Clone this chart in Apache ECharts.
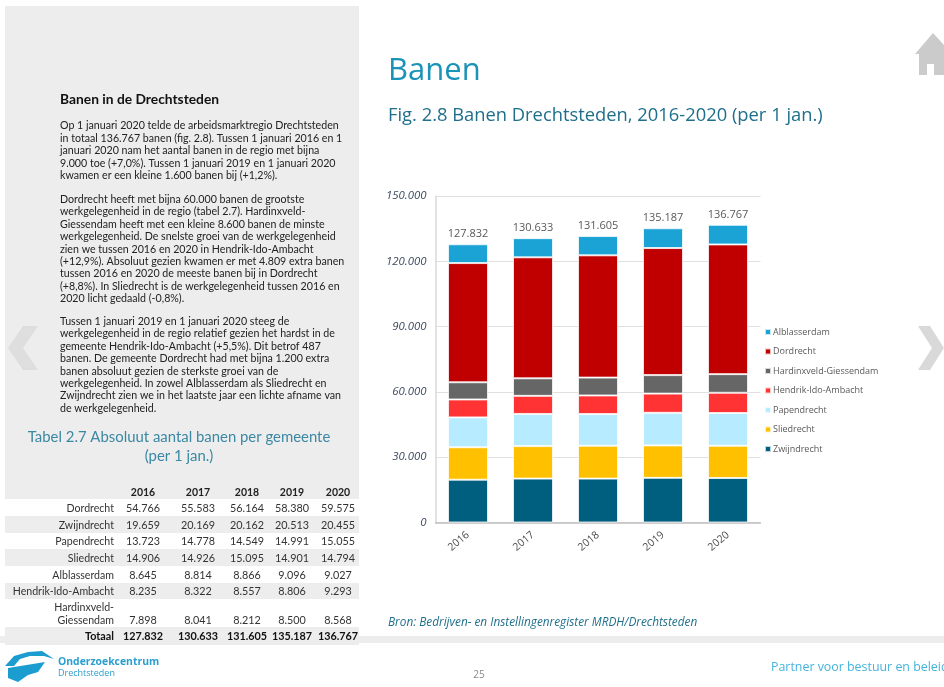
<!DOCTYPE html>
<html><head><meta charset="utf-8">
<style>html,body{margin:0;padding:0;background:#fff}#c{width:944px;height:687px}</style>
<script src="https://cdn.jsdelivr.net/npm/echarts@6/dist/echarts.min.js"></script>
</head><body><div id="c"></div>
<script>
var years = ['2016','2017','2018','2019','2020'];
var zwijndrecht = [19659,20169,20162,20513,20455];
var sliedrecht = [14906,14926,15095,14901,14794];
var papendrecht = [13723,14778,14549,14991,15055];
var hia = [8235,8322,8557,8806,9293];
var hardinxveld = [7898,8041,8212,8500,8568];
var dordrecht = [54766,55583,56164,58380,59575];
var alblasserdam = [8645,8814,8866,9096,9027];
var totals = [127832,130633,131605,135187,136767];
var yTicks = [0,30000,60000,90000,120000,150000];
var stackNames = ['Zwijndrecht','Sliedrecht','Papendrecht','Hendrik-Ido-Ambacht','Hardinxveld-Giessendam','Dordrecht','Alblasserdam'];
var stackValues = [zwijndrecht,sliedrecht,papendrecht,hia,hardinxveld,dordrecht,alblasserdam];
var stackColors = ['#005f7f','#ffc000','#b7ebff','#ff3333','#666666','#c00000','#1ba3d6'];
var legendOrder = ['Alblasserdam','Dordrecht','Hardinxveld-Giessendam','Hendrik-Ido-Ambacht','Papendrecht','Sliedrecht','Zwijndrecht'];
var tableRows = [
  ['Dordrecht',dordrecht],['Zwijndrecht',zwijndrecht],['Papendrecht',papendrecht],['Sliedrecht',sliedrecht],
  ['Alblasserdam',alblasserdam],['Hendrik-Ido-Ambacht',hia],['Giessendam',hardinxveld]
];
var para1 = ['Op 1 januari 2020 telde de arbeidsmarktregio Drechtsteden','in totaal 136.767 banen (fig. 2.8). Tussen 1 januari 2016 en 1','januari 2020 nam het aantal banen in de regio met bijna','9.000 toe (+7,0%). Tussen 1 januari 2019 en 1 januari 2020','kwamen er een kleine 1.600 banen bij (+1,2%).'];
var para2 = ['Dordrecht heeft met bijna 60.000 banen de grootste','werkgelegenheid in de regio (tabel 2.7). Hardinxveld-','Giessendam heeft met een kleine 8.600 banen de minste','werkgelegenheid. De snelste groei van de werkgelegenheid','zien we tussen 2016 en 2020 in Hendrik-Ido-Ambacht','(+12,9%). Absoluut gezien kwamen er met 4.809 extra banen','tussen 2016 en 2020 de meeste banen bij in Dordrecht','(+8,8%). In Sliedrecht is de werkgelegenheid tussen 2016 en','2020 licht gedaald (-0,8%).'];
var para3 = ['Tussen 1 januari 2019 en 1 januari 2020 steeg de','werkgelegenheid in de regio relatief gezien het hardst in de','gemeente Hendrik-Ido-Ambacht (+5,5%). Dit betrof 487','banen. De gemeente Dordrecht had met bijna 1.200 extra','banen absoluut gezien de sterkste groei van de','werkgelegenheid. In zowel Alblasserdam als Sliedrecht en','Zwijndrecht zien we in het laatste jaar een lichte afname van','de werkgelegenheid.'];

function fmt(v){return String(v).replace(/\B(?=(\d{3})+$)/g,'.');}

var g = [];
function rect(x,y,w,h,fill,z){g.push({type:'rect',silent:true,z:z||0,shape:{x:x,y:y,width:w,height:h},style:{fill:fill}});}
function txt(t,x,y,o){o=o||{};g.push({type:'text',silent:true,z:5,x:x,y:y,style:{text:t,fill:o.fill||'#222',font:(o.italic?'italic ':'')+(o.weight||'normal')+' '+(o.size||11)+'px '+(o.family||'Lato'),textAlign:o.align||'left',textVerticalAlign:'middle'}});}
function poly(pts,fill,z){g.push({type:'polygon',silent:true,z:z||1,shape:{points:pts},style:{fill:fill}});}

// panel
rect(5,6,354,493,'#ededed');
[[516,17],[549,17],[583,16],[627,18]].forEach(function(b){rect(5,b[0],354,b[1],'#ededed');});
rect(0,636,944,7,'#ededed');
// chevrons
poly([[38,326],[23,326],[8,348],[23,370],[38,370],[23,348]],'#dedede',1);
poly([[918,326],[930,326],[944,348],[944,348],[930,370],[918,370],[932,348]],'#d9d9d9',1);
// home
poly([[933,33],[944,45],[944,75],[934,75],[934,64],[927,64],[927,75],[919,75],[919,54],[915,54]],'#cbcbcb',1);

txt('Banen in de Drechtsteden',60,100,{size:13.8,weight:'bold',fill:'#111'});
var lh=12.4, bodySize=10.65;
para1.forEach(function(l,i){txt(l,60,126+i*lh,{size:bodySize,fill:'#222'});});
para2.forEach(function(l,i){txt(l,60,199.5+i*lh,{size:bodySize,fill:'#222'});});
para3.forEach(function(l,i){txt(l,60,321.5+i*lh,{size:bodySize,fill:'#222'});});

txt('Tabel 2.7 Absoluut aantal banen per gemeente',179,437,{size:14.9,align:'center',fill:'#3a88a3'});
txt('(per 1 jan.)',179,456.5,{size:14.9,align:'center',fill:'#3a88a3'});

var colX=[143,198,247,292,338];
years.forEach(function(y,i){txt(y,colX[i],492.5,{size:10.5,weight:'bold',align:'center',fill:'#222'});});
var rowY=[509,525.5,542,559,576,592,621];
tableRows.forEach(function(r,i){
  txt(r[0],114,rowY[i],{size:10.6,align:'right',fill:'#333'});
  r[1].forEach(function(v,k){txt(fmt(v),colX[k],rowY[i],{size:10.8,align:'center',fill:'#333'});});
});
txt('Hardinxveld-',114,607.5,{size:10.6,align:'right',fill:'#333'});
txt('Totaal',114,637,{size:10.8,weight:'bold',align:'right',fill:'#111'});
totals.forEach(function(v,k){txt(fmt(v),colX[k],637,{size:10.8,weight:'bold',align:'center',fill:'#111'});});

// figure heading
txt('Banen',388,71.5,{size:31,family:'Open Sans',fill:'#1a93b8'});
txt('Fig. 2.8 Banen Drechtsteden, 2016-2020 (per 1 jan.)',388,115.5,{size:18.35,family:'Open Sans',fill:'#1f6f8b'});
txt('Bron: Bedrijven- en Instellingenregister MRDH/Drechtsteden',388,623,{size:11.8,italic:true,family:'Open Sans',fill:'#1f6f8b'});

// footer
txt('25',479,675,{size:10,align:'center',family:'Open Sans',fill:'#8a8a8a'});
txt('Partner voor bestuur en beleid',771,667,{size:12.4,family:'Open Sans',fill:'#45b4dc'});
txt('Onderzoekcentrum',58,662,{size:10.4,weight:'bold',family:'Open Sans',fill:'#2a9fcf'});
txt('Drechtsteden',58,673,{size:9,family:'Open Sans',fill:'#2a9fcf'});
// logo
poly([[5,666],[14,656],[28,652],[42,651],[54,659],[44,656],[30,656],[20,659],[14,666]],'#1b9dd0',1);
poly([[8,668],[45,662],[38,672],[28,675],[18,682],[8,678]],'#1b9dd0',1);

var series = stackNames.map(function(n,i){
  return {name:n,type:'bar',stack:'t',data:stackValues[i],barWidth:40,
    itemStyle:{color:stackColors[i],borderColor:'rgba(255,255,255,0.75)',borderWidth:1}};
});
series.push({name:'Totaal',type:'line',data:totals,symbol:'circle',symbolSize:1,showSymbol:true,
  lineStyle:{opacity:0},itemStyle:{color:'rgba(0,0,0,0)'},
  label:{show:true,position:'top',distance:4,formatter:function(p){return fmt(p.value);},fontFamily:'Open Sans',fontSize:11,color:'#595959'},z:6});

var chart = echarts.init(document.getElementById('c'),null,{renderer:'canvas'});
chart.setOption({
  animation:false,backgroundColor:'#fff',
  grid:{left:435.5,top:196,width:325,height:326.5,containLabel:false},
  legend:{orient:'vertical',left:759,top:321,data:legendOrder,itemWidth:6,itemHeight:6,itemGap:7.5,icon:'rect',
    textStyle:{fontFamily:'Open Sans',fontSize:9,color:'#595959',padding:[0,0,0,-3],lineHeight:12}},
  xAxis:{type:'category',data:years,axisTick:{show:false},
    axisLine:{lineStyle:{color:'#bfbfbf',width:1.5}},
    axisLabel:{rotate:40,margin:11,fontFamily:'Open Sans',fontSize:10.5,color:'#4a4a4a'}},
  yAxis:{type:'value',min:yTicks[0],max:yTicks[yTicks.length-1],interval:yTicks[1]-yTicks[0],
    axisLine:{show:true,lineStyle:{color:'#d9d9d9',width:1.5}},axisTick:{show:false},
    splitLine:{lineStyle:{color:'#e0e0e0',width:1}},
    axisLabel:{margin:9,fontFamily:'Open Sans',fontStyle:'italic',fontSize:11.4,color:'#3b4a60',formatter:function(v){return fmt(v);}}},
  series:series,
  graphic:{elements:g}
});
</script></body></html>
